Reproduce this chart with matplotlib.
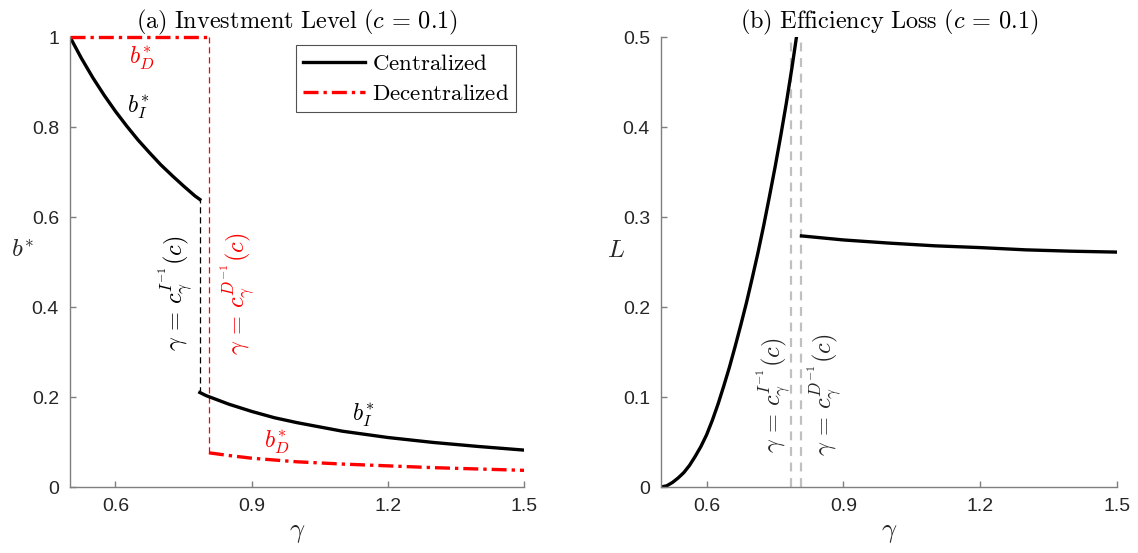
import numpy as np
import matplotlib
matplotlib.use("Agg")
import matplotlib.pyplot as plt

plt.rcParams['mathtext.fontset'] = 'cm'
plt.rcParams['font.family'] = ['Liberation Sans', 'DejaVu Sans']

# ---------------- data ----------------
c_I_inv = 0.786   # gamma = c_gamma^{I^-1}(c)
c_D_inv = 0.806   # gamma = c_gamma^{D^-1}(c)

# (a) centralized investment b_I*
gam_I1 = [0.5, 0.525, 0.55, 0.575, 0.6, 0.625, 0.65, 0.675, 0.7, 0.725, 0.75, 0.775, 0.786]
b_I1   = [1.000, 0.953, 0.910, 0.871, 0.835, 0.802, 0.771, 0.743, 0.716, 0.692, 0.669, 0.647, 0.639]
gam_I2 = [0.786, 0.8, 0.85, 0.9, 0.95, 1.0, 1.1, 1.2, 1.3, 1.4, 1.5]
b_I2   = [0.210, 0.203, 0.184, 0.168, 0.154, 0.143, 0.124, 0.110, 0.099, 0.090, 0.082]

# (a) decentralized investment b_D*
gam_D1 = [0.5, 0.806]
b_D1   = [1.0, 1.0]
gam_D2 = [0.806, 0.85, 0.9, 0.95, 1.0, 1.1, 1.2, 1.3, 1.4, 1.5]
b_D2   = [0.076, 0.070, 0.064, 0.060, 0.056, 0.051, 0.047, 0.043, 0.040, 0.037]

# (b) efficiency loss L
gam_L1 = [0.5, 0.5125, 0.525, 0.5375, 0.55, 0.5625, 0.575, 0.5875, 0.6, 0.6125,
          0.625, 0.6375, 0.65, 0.6625, 0.675, 0.6875, 0.7, 0.7125, 0.725, 0.7375,
          0.75, 0.7625, 0.775, 0.7875, 0.8]
L1     = [0.0, 0.0013, 0.005, 0.010, 0.016, 0.024, 0.034, 0.045, 0.058, 0.074,
          0.092, 0.112, 0.133, 0.156, 0.180, 0.205, 0.232, 0.260, 0.290, 0.322,
          0.355, 0.390, 0.427, 0.467, 0.510]
gam_L2 = [0.808, 0.9, 1.0, 1.1, 1.2, 1.3, 1.4, 1.5]
L2     = [0.279, 0.2745, 0.271, 0.268, 0.266, 0.2635, 0.262, 0.261]

xticks = [0.6, 0.9, 1.2, 1.5]
xticklabels = ['0.6', '0.9', '1.2', '1.5']
yticks_a = [0, 0.2, 0.4, 0.6, 0.8, 1]
yticklabels_a = ['0', '0.2', '0.4', '0.6', '0.8', '1']
yticks_b = [0, 0.1, 0.2, 0.3, 0.4, 0.5]
yticklabels_b = ['0', '0.1', '0.2', '0.3', '0.4', '0.5']

# ---------------- figure ----------------
W, H = 1138, 553
fig = plt.figure(figsize=(W / 100, H / 100), dpi=100)
ax1 = fig.add_axes([70 / W, 1 - 487 / H, 454 / W, 450 / H])
ax2 = fig.add_axes([661 / W, 1 - 487 / H, 456 / W, 450 / H])

axcol = '#7f7f7f'
txtcol = '#262626'
dashdot = (0, (4.5, 1.5, 1.0, 1.5))

lbl_I = r'$\gamma\,=\,c_{\gamma}^{I^{-1}}(c)$'
lbl_D = r'$\gamma\,=\,c_{\gamma}^{D^{-1}}(c)$'


def style(ax):
    ax.spines['top'].set_visible(False)
    ax.spines['right'].set_visible(False)
    for s in ['left', 'bottom']:
        ax.spines[s].set_color(axcol)
        ax.spines[s].set_linewidth(1.0)
    ax.tick_params(direction='in', length=4, width=1.0, color=axcol,
                   labelcolor=txtcol, labelsize=14, pad=8)
    ax.set_xlim(0.5, 1.5)
    ax.set_xticks(xticks)
    ax.set_xticklabels(xticklabels)
    ax.set_xlabel(r'$\gamma$', fontsize=19, labelpad=4, color=txtcol)


# ---------- (a) Investment level ----------
style(ax1)
ax1.set_ylim(0, 1)
ax1.set_yticks(yticks_a)
ax1.set_yticklabels(yticklabels_a)

ax1.plot([c_I_inv, c_I_inv], [b_I2[0], b_I1[-1]], color='black', lw=0.9, ls=(0, (5, 3)))
ax1.plot([c_D_inv, c_D_inv], [b_D2[0], 1.0], color='red', lw=0.9, ls=(0, (5, 3)))

ax1.plot(gam_I1, b_I1, color='black', lw=2.4, label=r'$\mathrm{Centralized}$')
ax1.plot(gam_I2, b_I2, color='black', lw=2.4)
ax1.plot(gam_D1, b_D1, color='red', lw=2.4, ls=dashdot,
         label=r'$\mathrm{Decentralized}$', clip_on=False)
ax1.plot(gam_D2, b_D2, color='red', lw=2.4, ls=dashdot)

ax1.text(0.657, 0.953, r'$b_D^{*}$', color='red', fontsize=17, ha='center', va='center')
ax1.text(0.649, 0.844, r'$b_I^{*}$', color='black', fontsize=17, ha='center', va='center')
ax1.text(1.145, 0.159, r'$b_I^{*}$', color='black', fontsize=17, ha='center', va='center')
ax1.text(0.955, 0.100, r'$b_D^{*}$', color='red', fontsize=17, ha='center', va='center')

ax1.text(0.732, 0.430, lbl_I, color='black', fontsize=17.5,
         rotation=90, ha='center', va='center')
ax1.text(0.868, 0.430, lbl_D, color='red', fontsize=17.5,
         rotation=90, ha='center', va='center')

ax1.set_ylabel(r'$b^{*}$', fontsize=18, rotation=0, color=txtcol)
ax1.yaxis.set_label_coords(-0.105, 0.5)
ax1.set_title(r'$\mathrm{(a)\ Investment\ Level\ }(c\,=\,0.1)$', fontsize=17.5, pad=4)

leg = ax1.legend(loc='upper right', fontsize=16.5, frameon=True, fancybox=False,
                 handlelength=2.7, borderpad=0.3, labelspacing=0.3,
                 handletextpad=0.3, borderaxespad=0.35)
leg.get_frame().set_edgecolor('#262626')
leg.get_frame().set_linewidth(0.8)

# ---------- (b) Efficiency loss ----------
style(ax2)
ax2.set_ylim(0, 0.5)
ax2.set_yticks(yticks_b)
ax2.set_yticklabels(yticklabels_b)

for g in [c_I_inv, c_D_inv]:
    ax2.axvline(g, color='#c0c0c0', lw=1.6, ls=(0, (4, 3)))

ax2.plot(gam_L1, L1, color='black', lw=2.4)
ax2.plot(gam_L2, L2, color='black', lw=2.4)

ax2.text(0.746, 0.102, lbl_I, color='#262626', fontsize=17.5,
         rotation=90, ha='center', va='center')
ax2.text(0.857, 0.102, lbl_D, color='#262626', fontsize=17.5,
         rotation=90, ha='center', va='center')

ax2.set_ylabel(r'$L$', fontsize=18, rotation=0, color=txtcol)
ax2.yaxis.set_label_coords(-0.098, 0.5)
ax2.set_title(r'$\mathrm{(b)\ Efficiency\ Loss\ }(c\,=\,0.1)$', fontsize=17.5, pad=4)

fig.savefig('out.png', dpi=100)
